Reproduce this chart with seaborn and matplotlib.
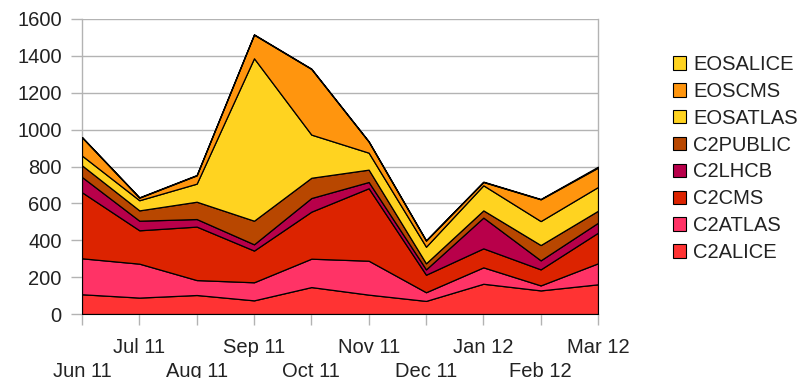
import matplotlib
matplotlib.use("Agg")
import matplotlib.pyplot as plt
import seaborn as sns
import numpy as np
from matplotlib.patches import Patch

months = ["Jun 11", "Jul 11", "Aug 11", "Sep 11", "Oct 11", "Nov 11",
          "Dec 11", "Jan 12", "Feb 12", "Mar 12"]

# per-series values (stacked)
C2ALICE  = [107, 89, 103, 74, 146, 105, 71, 164, 128, 161]
C2ATLAS  = [195, 184, 81, 98, 154, 184, 47, 89, 27, 114]
C2CMS    = [358, 181, 290, 172, 255, 393, 95, 103, 87, 166]
C2LHCB   = [83, 52, 41, 34, 74, 34, 29, 167, 49, 54]
C2PUBLIC = [63, 56, 94, 128, 110, 67, 33, 39, 83, 65]
EOSATLAS = [53, 55, 98, 881, 234, 92, 90, 136, 130, 129]
EOSCMS   = [99, 14, 45, 128, 356, 60, 33, 18, 118, 105]
EOSALICE = [2, 2, 2, 2, 2, 2, 2, 2, 2, 5]

series_names = ["C2ALICE", "C2ATLAS", "C2CMS", "C2LHCB", "C2PUBLIC",
                "EOSATLAS", "EOSCMS", "EOSALICE"]
series_values = [C2ALICE, C2ATLAS, C2CMS, C2LHCB, C2PUBLIC,
                 EOSATLAS, EOSCMS, EOSALICE]
colors = ["#FF3333", "#FF3366", "#DC2300", "#B8004A", "#B84700",
          "#FFD320", "#FF950E", "#FFD320"]

yticks = [0, 200, 400, 600, 800, 1000, 1200, 1400, 1600]

sns.set_style("white")
plt.rcParams["font.family"] = ["Liberation Sans", "DejaVu Sans"]

FS = 14.5
fig = plt.figure(figsize=(8.05, 3.78), dpi=100)
ax = fig.add_axes([82 / 805, 1 - 314 / 378, (598 - 82) / 805, (314 - 19) / 378])

x = np.arange(len(months))
ax.stackplot(x, *series_values, colors=colors, edgecolor="black",
             linewidth=0.9, zorder=3)

ax.set_xlim(0, len(months) - 1)
ax.set_ylim(0, 1600)
ax.set_yticks(yticks)
ax.set_yticklabels([str(v) for v in yticks], fontsize=FS, color="#222222")
ax.yaxis.grid(True, color="#b3b3b3", linewidth=1, zorder=0)
ax.xaxis.grid(False)

ax.set_xticks(x)
labels = [("\n" + m) if i % 2 == 0 else m for i, m in enumerate(months)]
ax.set_xticklabels(labels, fontsize=FS, color="#222222", linespacing=1.37)
ax.tick_params(axis="x", length=8, color="#b3b3b3", width=1, pad=9, direction="out")
ax.tick_params(axis="y", length=8, color="#b3b3b3", width=1, pad=6.5, direction="out")
ax.tick_params(bottom=True, left=True)

ax.spines["top"].set_visible(False)
for s in ["left", "right", "bottom"]:
    ax.spines[s].set_color("#b3b3b3")
    ax.spines[s].set_linewidth(1)

handles = [Patch(facecolor=c, edgecolor="black", linewidth=0.8)
           for c in colors[::-1]]
leg = fig.legend(handles, series_names[::-1], loc="upper left",
                 bbox_to_anchor=(663 / 805, 1 - 45 / 378), frameon=False,
                 fontsize=FS, handlelength=0.65, handleheight=0.65,
                 handletextpad=0.35, labelspacing=0.39, borderpad=0)
for t in leg.get_texts():
    t.set_color("#222222")

fig.savefig("out.png", dpi=100)
